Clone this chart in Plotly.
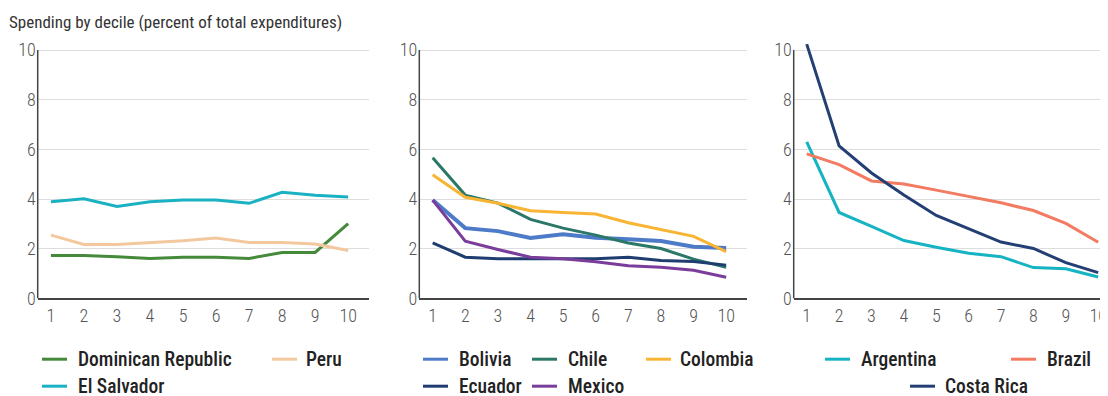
import plotly.graph_objects as go

deciles = [1, 2, 3, 4, 5, 6, 7, 8, 9, 10]

# Panel 1
dominican_republic = [1.73, 1.73, 1.68, 1.61, 1.66, 1.66, 1.61, 1.85, 1.85, 3.01]
peru = [2.55, 2.17, 2.17, 2.24, 2.32, 2.43, 2.25, 2.25, 2.19, 1.93]
el_salvador = [3.89, 4.01, 3.70, 3.89, 3.96, 3.96, 3.83, 4.27, 4.15, 4.08]

# Panel 2
bolivia = [3.96, 2.83, 2.71, 2.43, 2.58, 2.44, 2.38, 2.31, 2.08, 2.03]
chile = [5.66, 4.16, 3.84, 3.18, 2.83, 2.55, 2.23, 2.01, 1.58, 1.25]
colombia = [4.98, 4.07, 3.83, 3.53, 3.46, 3.40, 3.05, 2.77, 2.50, 1.88]
ecuador = [2.24, 1.66, 1.60, 1.60, 1.60, 1.60, 1.66, 1.53, 1.49, 1.34]
mexico = [3.96, 2.30, 1.97, 1.66, 1.60, 1.48, 1.32, 1.25, 1.13, 0.85]

# Panel 3
argentina = [6.30, 3.46, 2.90, 2.33, 2.06, 1.82, 1.68, 1.24, 1.19, 0.86]
brazil = [5.82, 5.39, 4.73, 4.61, 4.36, 4.10, 3.85, 3.54, 3.02, 2.26]
costa_rica = [10.24, 6.14, 5.05, 4.16, 3.34, 2.81, 2.27, 2.01, 1.44, 1.04]

title_text = "Spending by decile (percent of total expenditures)"
y_ticks = [0, 2, 4, 6, 8, 10]

panels = [
    [("Dominican Republic", dominican_republic, "#458a3a"),
     ("Peru", peru, "#f4c89f"),
     ("El Salvador", el_salvador, "#1ab2c3")],
    [("Bolivia", bolivia, "#4d7bc8"),
     ("Chile", chile, "#2b7868"),
     ("Colombia", colombia, "#f8b433"),
     ("Ecuador", ecuador, "#1f3d70"),
     ("Mexico", mexico, "#7b3d9b")],
    [("Argentina", argentina, "#16b3c3"),
     ("Brazil", brazil, "#f37b62"),
     ("Costa Rica", costa_rica, "#233f74")],
]
line_widths = {"Bolivia": 4}

# Positions below are given in screenshot pixels and mapped to figure space.
OFFX = 8
W, H = 1108, 396
FONT = "Roboto Condensed, Roboto, sans-serif"


def px_x(X):
    return (X - OFFX) / W


def px_y(Y):
    fy = (Y - 9.2) / 0.970
    return (H - fy) / H


x_domains_px = [(37.7, 369.3), (419.3, 746.7), (793.7, 1116)]
x_ranges = [[0.6, 10.64], [0.59, 10.63], [0.598, 10.55]]
y_dom = [px_y(297.7), px_y(40.6)]

# legend placement (screen px): name -> (swatch_x, text_x, row)
legend_pos = {
    "Dominican Republic": (42, 76, 0), "Peru": (272, 304, 0), "El Salvador": (42, 76, 1),
    "Bolivia": (423, 457, 0), "Chile": (532, 566, 0), "Colombia": (646, 678, 0),
    "Ecuador": (423, 457, 1), "Mexico": (532, 566, 1),
    "Argentina": (825, 859, 0), "Brazil": (1011, 1045, 0), "Costa Rica": (910, 943, 1),
}
row_y = [358.5, 385.5]

fig = go.Figure()
shapes = []
annotations = []

for i, series in enumerate(panels):
    xa = "x" if i == 0 else f"x{i+1}"
    ya = "y" if i == 0 else f"y{i+1}"
    for name, vals, color in series:
        fig.add_trace(go.Scatter(
            x=deciles, y=vals, mode="lines", name=name,
            line=dict(color=color, width=line_widths.get(name, 3)),
            xaxis=xa, yaxis=ya, showlegend=False))
        sx, tx, row = legend_pos[name]
        yy = px_y(row_y[row])
        shapes.append(dict(type="line", xref="paper", yref="paper",
                           x0=px_x(sx), x1=px_x(sx + 25), y0=yy, y1=yy,
                           line=dict(color=color, width=3)))
        annotations.append(dict(text=name, xref="paper", yref="paper",
                                x=px_x(tx), y=yy, xanchor="left", yanchor="middle",
                                showarrow=False,
                                font=dict(family=FONT, size=19.5, color="#222222", weight=500)))
    d0, d1 = x_domains_px[i]
    xkey = "xaxis" if i == 0 else f"xaxis{i+1}"
    ykey = "yaxis" if i == 0 else f"yaxis{i+1}"
    fig.update_layout(**{
        xkey: dict(domain=[px_x(d0), min(1.0, px_x(d1))], range=x_ranges[i], tickvals=deciles,
                   showgrid=False, zeroline=False, showline=True,
                   linecolor="#444444", linewidth=1.5, ticks="",
                   ticklabelstandoff=0, anchor=ya,
                   tickfont=dict(family=FONT, size=18, color="#555555", weight=300)),
        ykey: dict(domain=y_dom, range=[0, 10.35], tickvals=y_ticks,
                   showgrid=True, gridcolor="#dddddd", gridwidth=1,
                   zeroline=False, showline=False, ticks="",
                   ticklabelstandoff=1, anchor=xa,
                   tickfont=dict(family=FONT, size=18, color="#555555", weight=300)),
    })
    shapes.append(dict(type="line", xref=f"{xa} domain", yref=ya,
                       x0=0, x1=0, y0=0, y1=10,
                       line=dict(color="#444444", width=1.5), layer="above"))

annotations.append(dict(text=title_text, xref="paper", yref="paper",
                        x=px_x(7), y=px_y(21), xanchor="left", yanchor="middle",
                        showarrow=False,
                        font=dict(family=FONT, size=17, color="#333333")))

fig.update_layout(width=W, height=H, margin=dict(l=0, r=0, t=0, b=0),
                  paper_bgcolor="white", plot_bgcolor="white",
                  shapes=shapes, annotations=annotations, showlegend=False)

fig.write_html("out.html")
